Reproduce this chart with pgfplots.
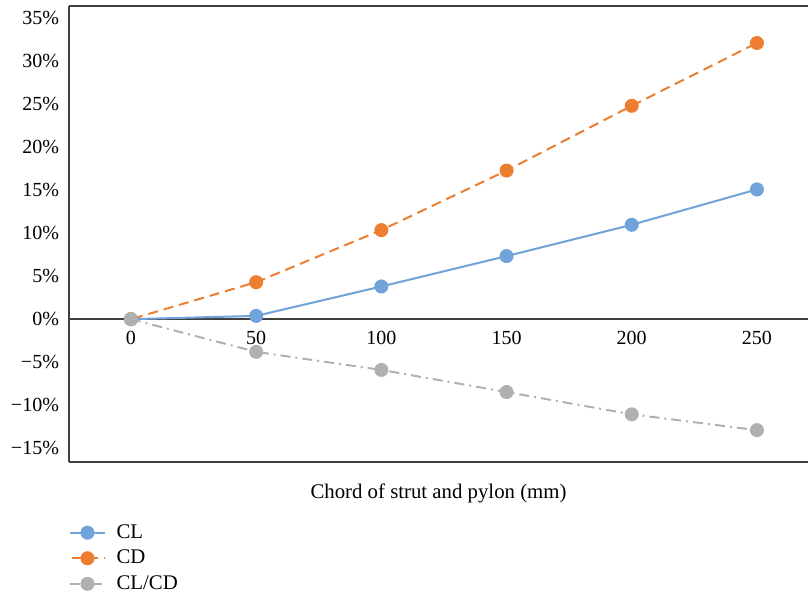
\documentclass[border=0pt]{standalone}
\usepackage{fontspec}
\setmainfont{Liberation Serif}
\usepackage{pgfplots}
\pgfplotsset{compat=1.18}
\definecolor{clblue}{HTML}{6FA3D9}
\definecolor{cdorange}{HTML}{ED7D31}
\definecolor{ratgray}{HTML}{B0B0B0}
\definecolor{axcol}{HTML}{404040}

\begin{document}
\fontsize{10}{12}\selectfont
\begin{tikzpicture}
\begin{axis}[
  scale only axis, width=369.5pt, height=228pt,
  xmin=-24.76, xmax=270.4, ymin=-16.6, ymax=36.4,
  axis x line*=middle, axis y line*=left,
  axis line style={axcol, line width=0.9pt, -},
  hide obscured x ticks=false, hide obscured y ticks=false,
  xtick={0,50,100,150,200,250},
  xticklabels={0,50,100,150,200,250},
  ytick={-15,-10,-5,0,5,10,15,20,25,30,35},
  yticklabels={−15\%,−10\%,−5\%,0\%,5\%,10\%,15\%,20\%,25\%,30\%,35\%},
  major tick length=0pt,
  tick label style={font=\fontsize{10}{12}\selectfont, text=black},
  xticklabel style={yshift=-2.5pt},
  yticklabel style={xshift=-1.5pt},
  xlabel={Chord of strut and pylon (mm)},
  xlabel style={at={(rel axis cs:0.5,0)}, anchor=north, yshift=-7.5pt, font=\fontsize{10.4}{12.5}\selectfont},
  legend style={at={(0,-0.127)}, anchor=north west, draw=none, fill=none,
    inner xsep=0pt, inner ysep=0pt, row sep=0.4pt, column sep=3.5pt,
    font=\fontsize{10.4}{12.5}\selectfont},
  legend cell align=left,
  clip=false,
]
\addplot[clblue, line width=1pt, mark=*, mark size=3pt, mark options={solid, fill=clblue, draw=clblue}]
  coordinates {(0,0) (50,0.38) (100,3.8) (150,7.33) (200,10.97) (250,15.08)};
\addlegendentry{CL}
\addplot[cdorange, line width=1pt, dash pattern=on 5pt off 3pt, dash phase=-1pt, mark=*, mark size=3pt, mark options={solid, fill=cdorange, draw=cdorange}]
  coordinates {(0,0) (50,4.3) (100,10.35) (150,17.27) (200,24.8) (250,32.1)};
\addlegendentry{CD}
\addplot[ratgray, line width=1pt, dash pattern=on 5pt off 2.5pt on 1pt off 2.5pt, mark=*, mark size=3pt, mark options={solid, fill=ratgray, draw=ratgray}]
  coordinates {(0,0) (50,-3.8) (100,-5.9) (150,-8.47) (200,-11.06) (250,-12.9)};
\addlegendentry{CL/CD}
\draw[axcol, line width=0.9pt] (rel axis cs:0,0) -- (rel axis cs:1,0);
\draw[axcol, line width=0.9pt] (rel axis cs:0,1) -- (rel axis cs:1,1);
\coordinate (bl) at (rel axis cs:0,0);
\coordinate (tr) at (rel axis cs:1,1);
\end{axis}
\pgfresetboundingbox
\useasboundingbox ([shift={(-34.5pt,-67pt)}]bl) rectangle ([shift={(0pt,3pt)}]tr);
\end{tikzpicture}
\end{document}
